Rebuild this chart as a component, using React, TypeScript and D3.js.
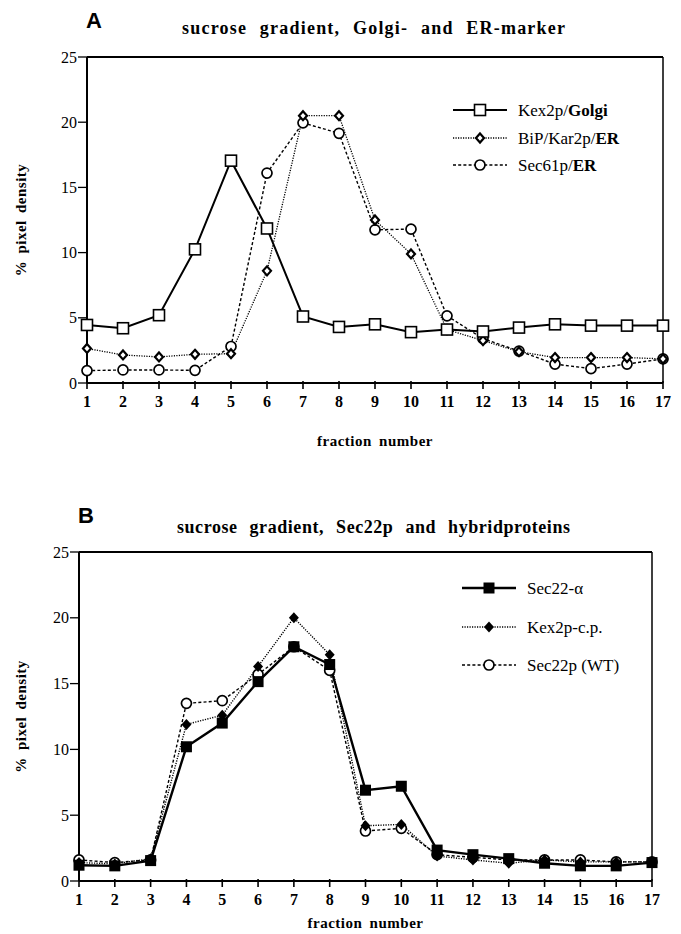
import React from "react";
import * as d3 from "d3";

const fractions = [1, 2, 3, 4, 5, 6, 7, 8, 9, 10, 11, 12, 13, 14, 15, 16, 17];
const yTicks = [0, 5, 10, 15, 20, 25];

// panel A
const kex2pGolgi = [4.45, 4.2, 5.2, 10.25, 17.05, 11.85, 5.1, 4.3, 4.5, 3.9, 4.1, 3.95, 4.25, 4.5, 4.4, 4.4, 4.4];
const bipKar2p = [2.65, 2.15, 2.0, 2.2, 2.25, 8.6, 20.5, 20.5, 12.5, 9.9, 4.1, 3.25, 2.4, 1.95, 1.95, 1.95, 1.85];
const sec61p = [0.95, 1.0, 1.0, 0.97, 2.8, 16.1, 19.95, 19.15, 11.75, 11.8, 5.15, 3.4, 2.45, 1.45, 1.1, 1.45, 1.85];

// panel B
const sec22Alpha = [1.2, 1.15, 1.55, 10.2, 12.0, 15.15, 17.8, 16.45, 6.9, 7.2, 2.35, 2.0, 1.7, 1.35, 1.15, 1.15, 1.4];
const kex2pCP = [1.4, 1.3, 1.7, 11.9, 12.6, 16.3, 20.0, 17.2, 4.2, 4.3, 1.9, 1.6, 1.35, 1.6, 1.45, 1.45, 1.45];
const sec22pWT = [1.6, 1.4, 1.6, 13.5, 13.7, 15.7, 17.8, 16.0, 3.8, 4.0, 2.0, 1.8, 1.6, 1.6, 1.6, 1.45, 1.45];

type Marker = "openSquare" | "openDiamond" | "openCircle" | "filledSquare" | "filledDiamond";

interface Series {
  name: React.ReactNode;
  values: number[];
  marker: Marker;
  dash: string | undefined;
  width: number;
}

const serif = "Liberation Serif, serif";
const sans = "Liberation Sans, sans-serif";

function MarkerShape({ type, x, y }: { type: Marker; x: number; y: number }) {
  switch (type) {
    case "openSquare":
      return <rect x={x - 5.5} y={y - 5.5} width={11} height={11} fill="#fff" stroke="#000" strokeWidth={1.6} />;
    case "filledSquare":
      return <rect x={x - 5.5} y={y - 5.5} width={11} height={11} fill="#000" />;
    case "openDiamond":
      return <path d={`M${x},${y - 4.5}L${x + 4},${y}L${x},${y + 4.5}L${x - 4},${y}Z`} fill="#fff" stroke="#000" strokeWidth={2.2} />;
    case "filledDiamond":
      return <path d={`M${x},${y - 5.5}L${x + 5},${y}L${x},${y + 5.5}L${x - 5},${y}Z`} fill="#000" />;
    case "openCircle":
      return <circle cx={x} cy={y} r={5} fill="#fff" stroke="#000" strokeWidth={1.7} />;
  }
}

interface PanelProps {
  letter: string;
  title: string;
  titleX: [number, number];
  titleY: number;
  left: number;
  right: number;
  top: number;
  bottom: number;
  xLabelY: number;
  series: Series[];
  legendX: number;
  legendY: number[];
}

function Panel(p: PanelProps) {
  const x = d3.scaleLinear().domain([1, 17]).range([p.left, p.right]);
  const y = d3.scaleLinear().domain([0, 25]).range([p.bottom, p.top]);
  const line = d3
    .line<number>()
    .x((_, i) => x(fractions[i]))
    .y((d) => y(d));

  return (
    <g>
      <text x={p.left - 1} y={p.top - 29} fontFamily={sans} fontWeight="bold" fontSize={22}>
        {p.letter}
      </text>
      <text
        x={p.titleX[0]}
        y={p.titleY}
        fontFamily={serif}
        fontWeight="bold"
        fontSize={18}
        wordSpacing={7}
        textLength={p.titleX[1] - p.titleX[0]}
        lengthAdjust="spacing"
      >
        {p.title}
      </text>

      {/* frame */}
      <line x1={p.left} x2={p.right} y1={p.top} y2={p.top} stroke="#000" strokeWidth={2} />
      <line x1={p.right} x2={p.right} y1={p.top} y2={p.bottom} stroke="#000" strokeWidth={1.5} />
      <line x1={p.left} x2={p.left} y1={p.top} y2={p.bottom} stroke="#000" strokeWidth={2} />
      <line x1={p.left} x2={p.right} y1={p.bottom} y2={p.bottom} stroke="#000" strokeWidth={2.2} />

      {yTicks.map((t) => (
        <g key={t}>
          <line x1={p.left - 9} x2={p.left} y1={y(t)} y2={y(t)} stroke="#000" strokeWidth={1.3} />
          <text x={p.left - 10} y={y(t)} dy="0.35em" textAnchor="end" fontFamily={serif} fontSize={16}>
            {t}
          </text>
        </g>
      ))}
      {fractions.map((f) => (
        <g key={f}>
          <line x1={x(f)} x2={x(f)} y1={p.bottom - 2} y2={p.bottom + 6} stroke="#000" strokeWidth={1.6} />
          <text x={x(f)} y={p.bottom + 24} textAnchor="middle" fontFamily={serif} fontWeight="bold" fontSize={16}>
            {f}
          </text>
        </g>
      ))}

      <text
        x={(p.left + p.right) / 2}
        y={p.xLabelY}
        textAnchor="middle"
        fontFamily={serif}
        fontWeight="bold"
        fontSize={15}
        letterSpacing={0.5}
        wordSpacing={3}
      >
        fraction number
      </text>
      <text
        transform={`translate(26,${(p.top + p.bottom) / 2}) rotate(-90)`}
        textAnchor="middle"
        fontFamily={serif}
        fontWeight="bold"
        fontSize={15}
        letterSpacing={0.5}
        wordSpacing={3}
      >
        % pixel density
      </text>

      {p.series.map((s, si) => (
        <g key={si}>
          <path d={line(s.values) ?? ""} fill="none" stroke="#000" strokeWidth={s.width} strokeDasharray={s.dash} />
        </g>
      ))}
      {p.series
        .slice()
        .reverse()
        .map((s, si) => (
          <g key={si}>
            {s.values.map((v, i) => (
              <MarkerShape key={i} type={s.marker} x={x(fractions[i])} y={y(v)} />
            ))}
          </g>
        ))}

      {p.series.map((s, si) => (
        <g key={si}>
          <line
            x1={p.legendX}
            x2={p.legendX + 54}
            y1={p.legendY[si]}
            y2={p.legendY[si]}
            stroke="#000"
            strokeWidth={s.width}
            strokeDasharray={s.dash}
          />
          <MarkerShape type={s.marker} x={p.legendX + 27} y={p.legendY[si]} />
          <text x={p.legendX + 65} y={p.legendY[si]} dy="0.35em" fontFamily={serif} fontSize={17}>
            {s.name}
          </text>
        </g>
      ))}
    </g>
  );
}

const seriesA: Series[] = [
  { name: <>Kex2p/<tspan fontWeight="bold">Golgi</tspan></>, values: kex2pGolgi, marker: "openSquare", dash: undefined, width: 2 },
  { name: <>BiP/Kar2p/<tspan fontWeight="bold">ER</tspan></>, values: bipKar2p, marker: "openDiamond", dash: "1.2,1.3", width: 1.3 },
  { name: <>Sec61p/<tspan fontWeight="bold">ER</tspan></>, values: sec61p, marker: "openCircle", dash: "3,2.2", width: 1.4 },
];

const seriesB: Series[] = [
  { name: "Sec22-\u03b1", values: sec22Alpha, marker: "filledSquare", dash: undefined, width: 2.4 },
  { name: "Kex2p-c.p.", values: kex2pCP, marker: "filledDiamond", dash: "1.2,1.3", width: 1.4 },
  { name: "Sec22p (WT)", values: sec22pWT, marker: "openCircle", dash: "3,2.2", width: 1.4 },
];

export default function App() {
  return (
    <svg width={681} height={934} style={{ position: "absolute", left: 0, top: 0, background: "#fff" }}>
      <Panel
        letter="A"
        title="sucrose gradient, Golgi- and ER-marker"
        titleX={[182, 565]}
        titleY={34}
        left={87}
        right={663}
        top={57}
        bottom={383}
        xLabelY={446}
        series={seriesA}
        legendX={453}
        legendY={[110, 138, 165]}
      />
      <Panel
        letter="B"
        title="sucrose gradient, Sec22p and hybridproteins"
        titleX={[177, 570]}
        titleY={533}
        left={79}
        right={652}
        top={552}
        bottom={881}
        xLabelY={928}
        series={seriesB}
        legendX={462}
        legendY={[588, 627, 665]}
      />
    </svg>
  );
}
